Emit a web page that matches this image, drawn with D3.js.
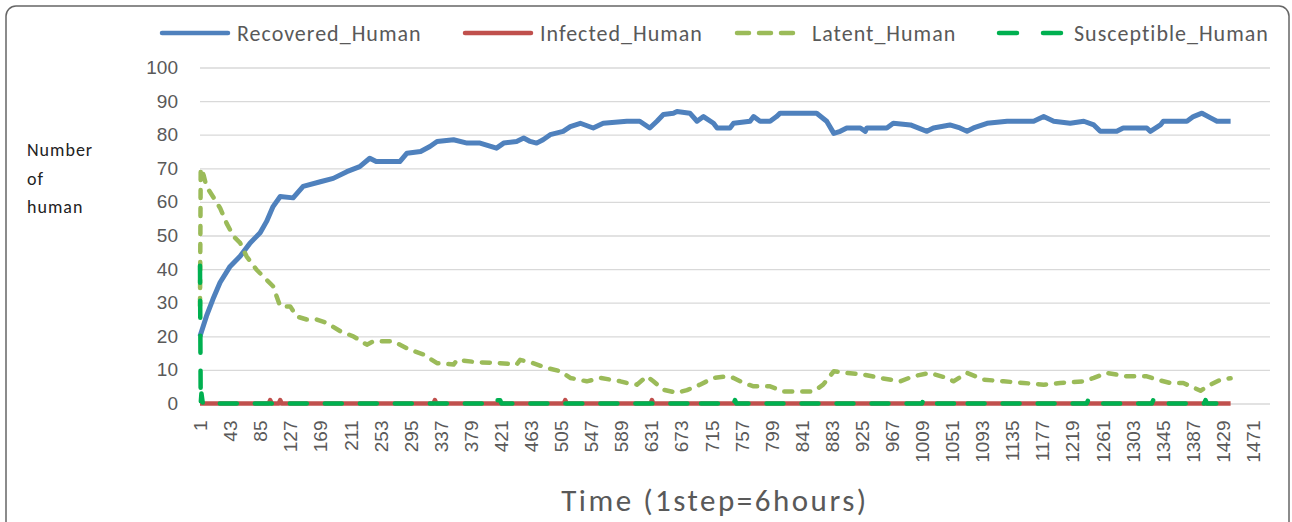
<!DOCTYPE html>
<html>
<head>
<meta charset="utf-8">
<script src="https://cdn.jsdelivr.net/npm/d3@7"></script>
<style>
  body { margin: 0; background: #fff; }
  svg { display: block; font-family: Carlito, Calibri, Lato, sans-serif; }
</style>
</head>
<body>
<svg id="chart" width="1292" height="522"></svg>
<script>
// values, [step, number of humans]
var recovered = [[1,20],[10,26],[19,31],[29,36],[43,40.8],[57,43.8],[71,47.8],[85,50.8],[94,54.2],[103,58.6],[113,61.6],
  [131,61.2],[145,64.6],[169,66],[187,67],[206,69],[224,70.5],[238,73],[247,72],[280,72],[290,74.5],[309,75],[322,76.5],
  [332,78],[355,78.5],[374,77.5],[392,77.5],[415,76],[425,77.5],[443,78],[453,79],[462,78],[471,77.5],[480,78.5],[490,80],
  [508,81],[518,82.4],[532,83.4],[550,82],[564,83.4],[597,84],[615,84],[629,82],[639,84],[648,86],[662,86.4],[667,86.9],
  [685,86.4],[695,84],[704,85.4],[718,83.4],[723,82],[741,82],[746,83.4],[769,84],[774,85.4],[783,84],[797,84],[806,85.4],
  [811,86.4],[862,86.4],[876,84],[886,80.4],[895,81],[904,82],[923,82],[930,81],[932,82],[960,82],[969,83.4],[993,82.9],
  [1016,81],[1025,82],[1048,82.9],[1062,82],[1072,81],[1081,82],[1100,83.4],[1128,84],[1165,84],[1179,85.4],[1193,84],
  [1216,83.4],[1235,84],[1249,82.9],[1258,81],[1281,81],[1290,82],[1323,82],[1328,81],[1342,82.9],[1346,84],[1379,84],
  [1388,85.4],[1400,86.4],[1412,85],[1421,84],[1440,84]];

var infected = [[1,0],[97,0],[99,1],[101,0],[111,0],[113,1],[115,0],[327,0],[329,1],[331,0],[509,0],[511,1],[513,0],
  [630,0],[632,1],[634,0],[1440,0]];

var latent = [[1,29],[2,70],[6,68],[10,64.6],[19,61.6],[29,58.2],[38,53.7],[48,49.7],[57,47.8],[66,43.8],[80,39.8],
  [94,36.8],[103,34.9],[113,28.9],[127,28.9],[136,25.9],[150,25],[164,25],[178,24],[197,21.5],[215,20],[234,17.5],
  [243,18.5],[271,18.5],[294,16],[313,14.6],[332,12],[355,11.6],[360,13],[387,12.3],[420,12],[443,11.6],[448,13],
  [466,12],[485,10.6],[504,9.6],[518,7.6],[541,6.6],[560,7.6],[588,6.6],[597,6.1],[611,5.6],[625,8.1],[634,6.6],
  [648,4.1],[667,3.2],[681,4],[699,5.6],[718,7.6],[737,8.1],[746,7.6],[760,6.1],[774,5.1],[797,5.1],[816,3.6],
  [834,3.6],[858,3.6],[871,5.6],[886,9.6],[904,9.1],[927,8.6],[951,7.6],[979,6.6],[997,8.1],[1020,9.1],[1044,7.6],
  [1053,6.6],[1072,9.1],[1095,7.1],[1123,6.6],[1151,6.1],[1179,5.6],[1202,6.1],[1235,6.6],[1249,7.6],[1267,9.1],
  [1295,8.1],[1323,8.1],[1337,7.1],[1356,6.1],[1374,6.1],[1398,3.8],[1412,5.6],[1426,7.1],[1440,7.5]];

var susceptible = [[1,41],[2,0],[3,3],[5,0],[413,0],[415,1],[420,1],[422,0],[687,0],[689,1],[691,0],[746,0],[748,1],
  [750,0],[1009,0],[1011,1],[1013,0],[1054,0],[1056,1],[1064,1],[1066,0],[1239,0],[1241,1],[1243,0],[1330,0],
  [1332,1],[1334,0],[1403,0],[1405,1],[1407,0],[1440,0]];

var xTicks = [1,43,85,127,169,211,253,295,337,379,421,463,505,547,589,631,673,715,757,799,841,883,925,967,
  1009,1051,1093,1135,1177,1219,1261,1303,1345,1387,1429,1471];
var yTicks = [0,10,20,30,40,50,60,70,80,90,100];

var seriesNames = ["Recovered_Human", "Infected_Human", "Latent_Human", "Susceptible_Human"];
var seriesData = [recovered, infected, latent, susceptible];
var colors = ["#4F81BD", "#C0504D", "#9BBB59", "#00B050"];
var dashes = [null, null, "8,10", "17,18"];

var svg = d3.select("#chart");

// outer frame
svg.append("rect")
    .attr("x", 6).attr("y", 6)
    .attr("width", 1283).attr("height", 540)
    .attr("rx", 10)
    .attr("fill", "#fff")
    .attr("stroke", "#666")
    .attr("stroke-width", 1.5);

var x = d3.scaleLinear().domain([1, 1495]).range([200, 1270]);
var y = d3.scaleLinear().domain([0, 100]).range([403.5, 67.5]);

// grid lines + y labels
var yAxis = svg.append("g")
    .attr("transform", "translate(200,0)")
    .call(d3.axisLeft(y).tickValues(yTicks).tickSize(-1070).tickPadding(22));
yAxis.select(".domain").remove();
yAxis.selectAll("line").attr("stroke", "#d9d9d9").attr("stroke-width", 1.3);
yAxis.selectAll("text")
    .attr("fill", "#595959")
    .style("font-size", "19px");

// x labels, rotated
var xAxis = svg.append("g")
    .attr("transform", "translate(0,403.5)")
    .call(d3.axisBottom(x).tickValues(xTicks).tickSize(0).tickFormat(d3.format("d")));
xAxis.select(".domain").remove();
xAxis.selectAll("text")
    .attr("fill", "#595959")
    .style("font-size", "19px")
    .attr("text-anchor", "end")
    .attr("transform", "rotate(-90)")
    .attr("x", -17)
    .attr("y", 0)
    .attr("dy", "0.35em");

var line = d3.line()
    .x(function(d) { return x(d[0]); })
    .y(function(d) { return y(d[1]); });

svg.selectAll(".series")
    .data(seriesData)
    .enter().append("path")
      .attr("class", "series")
      .attr("d", line)
      .attr("fill", "none")
      .attr("stroke", function(d, i) { return colors[i]; })
      .attr("stroke-width", function(d, i) { return i == 0 ? 5 : 4.5; })
      .attr("stroke-linejoin", "round")
      .attr("stroke-linecap", function(d, i) { return dashes[i] ? "round" : "butt"; })
      .attr("stroke-dasharray", function(d, i) { return dashes[i]; });

// legend
var legendX = [160, 463, 735, 997];
var legend = svg.selectAll(".legend")
    .data(seriesNames)
    .enter().append("g")
      .attr("class", "legend")
      .attr("transform", function(d, i) { return "translate(" + legendX[i] + ",33)"; });

legend.append("line")
    .attr("x1", 2).attr("x2", 68)
    .attr("stroke", function(d, i) { return colors[i]; })
    .attr("stroke-width", 4.5)
    .attr("stroke-linecap", "round")
    .attr("stroke-dasharray", function(d, i) { return i == 2 ? "12,10" : (i == 3 ? "18,26" : null); });

legend.append("text")
    .attr("x", 77)
    .attr("dy", "0.35em")
    .attr("fill", "#595959")
    .style("font-size", "22px")
    .style("letter-spacing", "1px")
    .text(function(d) { return d; });

// axis titles
svg.append("text")
    .attr("x", 715).attr("y", 500)
    .attr("text-anchor", "middle")
    .attr("dy", "0.35em")
    .attr("fill", "#595959")
    .style("font-size", "31px")
    .style("letter-spacing", "2.5px")
    .text("Time (1step=6hours)");

var yTitle = svg.append("text")
    .attr("x", 27).attr("y", 150)
    .attr("fill", "#222")
    .style("font-size", "18px")
    .style("letter-spacing", "1px");
yTitle.selectAll("tspan")
    .data(["Number", "of", "human"])
    .enter().append("tspan")
      .attr("x", 27)
      .attr("dy", function(d, i) { return i == 0 ? "0.35em" : "28.5"; })
      .text(function(d) { return d; });
</script>
</body>
</html>
